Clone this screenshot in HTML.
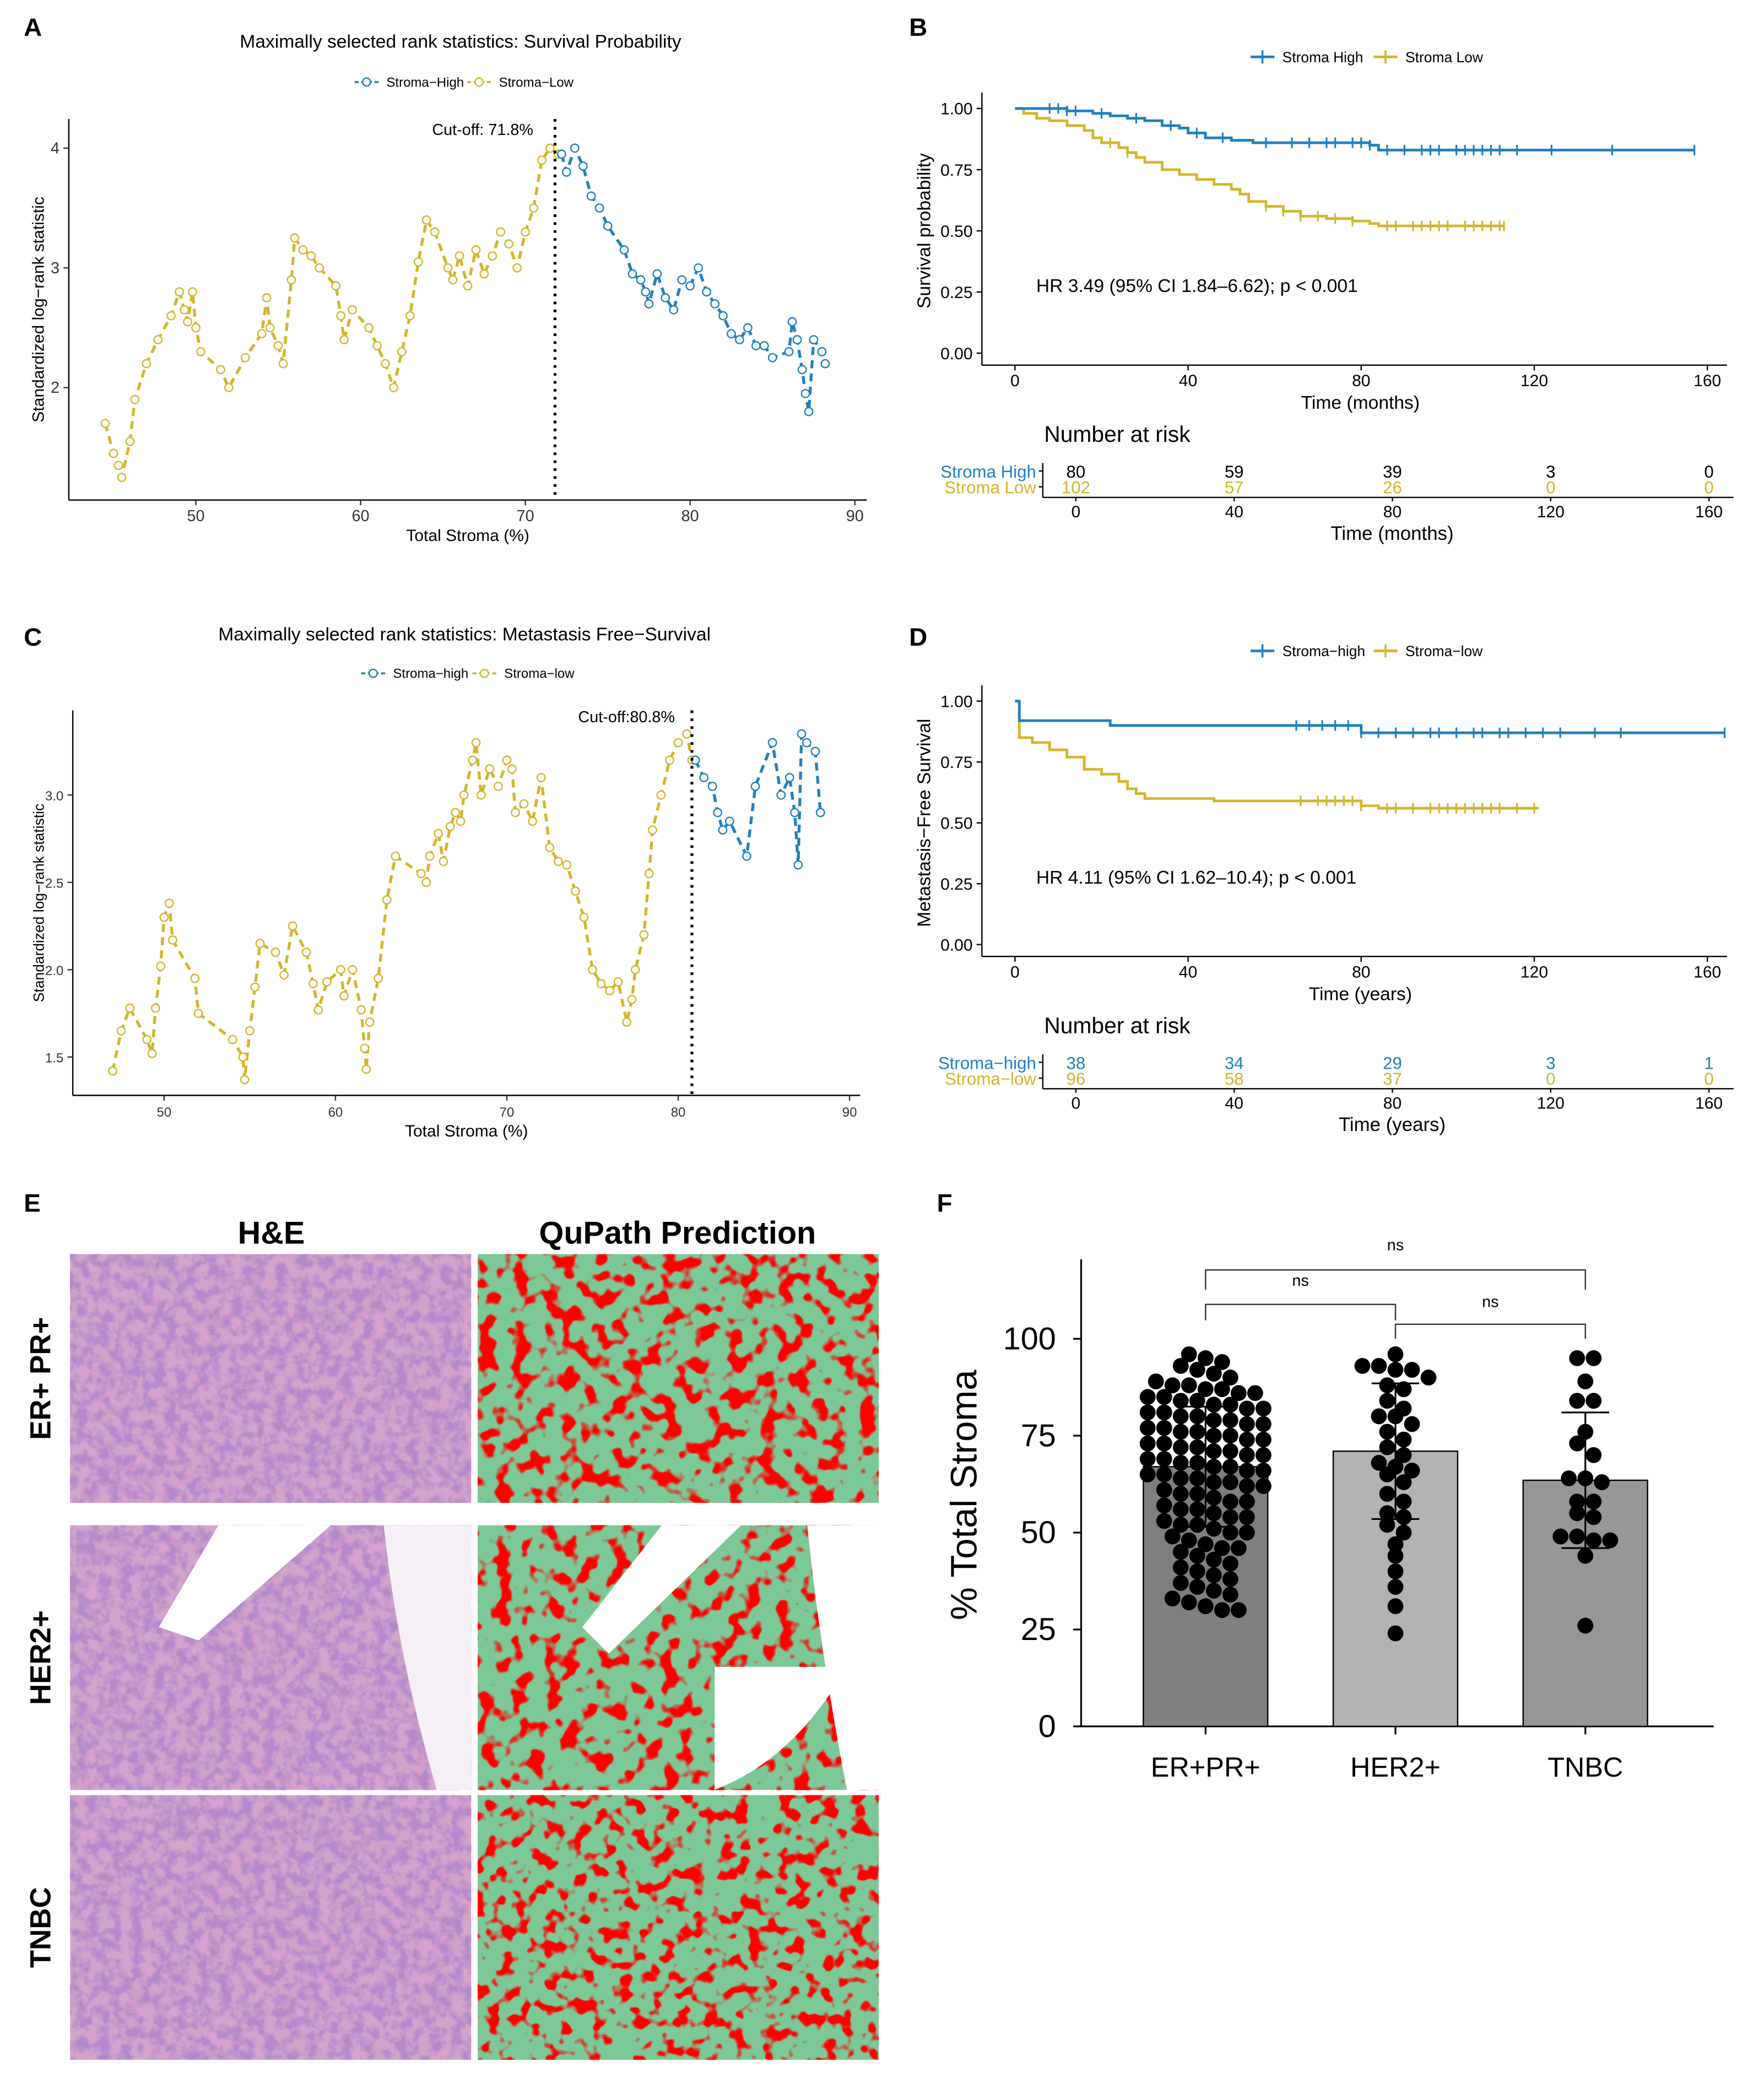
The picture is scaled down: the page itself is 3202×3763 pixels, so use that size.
<!DOCTYPE html>
<html><head><meta charset="utf-8"><style>
html,body{margin:0;padding:0;background:#fff}
svg{display:block;font-family:"Liberation Sans",Arial,sans-serif}
</style></head><body>
<svg id="fig" width="3202" height="3763" viewBox="0 0 1333 1567" preserveAspectRatio="none" xmlns="http://www.w3.org/2000/svg">
<defs>
<filter id="he1" x="0" y="0" width="1" height="1"><feTurbulence type="fractalNoise" baseFrequency="0.12" numOctaves="4" seed="3"/><feColorMatrix type="matrix" values="0 0 0 0 0.45  0 0 0 0 0.25  0 0 0 0 0.6  -3.2 0 0 0 2.0"/></filter>
<filter id="qp1" x="0" y="0" width="1" height="1"><feTurbulence type="fractalNoise" baseFrequency="0.08" numOctaves="2" seed="5"/><feColorMatrix type="matrix" values="0 0 0 0 1  0 0 0 0 0  0 0 0 0 0  -9 0 0 0 4.3"/></filter>
<filter id="qp2" x="0" y="0" width="1" height="1"><feTurbulence type="fractalNoise" baseFrequency="0.08" numOctaves="2" seed="9"/><feColorMatrix type="matrix" values="0 0 0 0 1  0 0 0 0 0  0 0 0 0 0  -9 0 0 0 4.2"/></filter>
<filter id="qp3" x="0" y="0" width="1" height="1"><feTurbulence type="fractalNoise" baseFrequency="0.09" numOctaves="2" seed="11"/><feColorMatrix type="matrix" values="0 0 0 0 1  0 0 0 0 0  0 0 0 0 0  -9 0 0 0 4.2"/></filter>
</defs>
<g id="root"></g>
</svg>
<script>
// ---------- DATA ----------
const aHighX=[72.2,72.5,73,73.5,74,74.5,75,76,76.5,77,77.3,77.5,78,78.5,79,79.5,80,80.5,81,81.5,82,82.5,83,83.5,84,84.5,85,86,86.2,86.5,86.8,87,87.2,87.5,88,88.2];
const aHighY=[3.95,3.8,4.0,3.85,3.6,3.5,3.35,3.15,2.95,2.9,2.8,2.7,2.95,2.75,2.65,2.9,2.85,3.0,2.8,2.7,2.6,2.45,2.4,2.5,2.35,2.35,2.25,2.3,2.55,2.4,2.15,1.95,1.8,2.4,2.3,2.2];
const aLowX=[44.5,45,45.3,45.5,46,46.3,47,47.7,48.5,49,49.3,49.5,49.8,50,50.3,51.5,52,53,54,54.3,54.5,55,55.3,55.8,56,56.5,57,57.5,58.5,58.8,59,59.5,60.5,61,61.5,62,62.5,63,63.5,64,64.5,65.3,65.6,66,66.5,67,67.5,68,68.5,69,69.5,70,70.5,71,71.5,72];
const aLowY=[1.7,1.45,1.35,1.25,1.55,1.9,2.2,2.4,2.6,2.8,2.65,2.55,2.8,2.5,2.3,2.15,2.0,2.25,2.45,2.75,2.5,2.35,2.2,2.9,3.25,3.15,3.1,3.0,2.85,2.6,2.4,2.65,2.5,2.35,2.2,2.0,2.3,2.6,3.05,3.4,3.3,3.0,2.9,3.1,2.85,3.15,2.95,3.1,3.3,3.2,3.0,3.3,3.5,3.9,4.0,3.95];
const cHighX=[81,81.5,82,82.3,82.6,83,84,84.5,85.5,86,86.5,86.8,87,87.2,87.5,88,88.3];
const cHighY=[3.2,3.1,3.05,2.9,2.8,2.85,2.65,3.05,3.3,3.0,3.1,2.9,2.6,3.35,3.3,3.25,2.9];
const cLowX=[47,47.5,48,49,49.3,49.5,49.8,50,50.3,50.5,51.8,52,54,54.6,54.7,55,55.3,55.6,56.5,57,57.5,58.3,58.7,59,59.5,60.3,60.5,61,61.5,61.7,61.8,62,62.5,63,63.5,65,65.3,65.5,66,66.3,66.7,67,67.3,67.5,68,68.2,68.5,69,69.5,70,70.3,70.5,71,71.5,72,72.5,73,73.5,74,74.5,75,75.5,76,76.5,77,77.3,77.5,78,78.3,78.5,79,79.5,80,80.5,80.8];
const cLowY=[1.42,1.65,1.78,1.6,1.52,1.78,2.02,2.3,2.38,2.17,1.95,1.75,1.6,1.5,1.37,1.65,1.9,2.15,2.1,1.97,2.25,2.1,1.92,1.77,1.93,2.0,1.85,2.0,1.77,1.55,1.43,1.7,1.95,2.4,2.65,2.55,2.5,2.65,2.78,2.62,2.82,2.9,2.85,3.0,3.2,3.3,3.0,3.15,3.05,3.2,3.15,2.9,2.95,2.85,3.1,2.7,2.62,2.6,2.45,2.3,2.0,1.92,1.88,1.93,1.7,1.83,2.0,2.2,2.55,2.8,3.0,3.2,3.3,3.35,3.2];
const bHighT=[0,12,18,22,26,30,34,38,40,44,50,55,82,84,157];
const bHighS=[1,0.99,0.98,0.97,0.96,0.95,0.93,0.92,0.9,0.88,0.87,0.86,0.85,0.83,0.83];
const bLowT=[0,2,5,8,12,16,18,20,24,26,28,30,34,38,42,46,50,52,54,58,62,66,72,78,82,84,113];
const bLowS=[1,0.98,0.96,0.95,0.93,0.91,0.88,0.86,0.84,0.82,0.8,0.78,0.75,0.73,0.71,0.69,0.67,0.65,0.62,0.6,0.58,0.56,0.55,0.54,0.53,0.52,0.52];
const bHighCens=[8,10,12,14,20,28,36,42,48,58,64,68,72,74,78,80,82,86,90,94,96,98,102,104,106,108,110,112,116,124,138,157];
const bLowCens=[22,26,58,62,66,70,74,78,86,88,92,94,96,98,100,104,106,108,110,112,113];
const dHighT=[0,1,22,80,164];
const dHighS=[1,0.92,0.9,0.87,0.87];
const dLowT=[0,1,4,8,12,16,20,24,26,28,30,46,80,84,121];
const dLowS=[1,0.85,0.83,0.8,0.77,0.72,0.7,0.67,0.64,0.62,0.6,0.59,0.57,0.56,0.56];
const dHighCens=[65,68,71,74,77,80,84,88,92,96,98,102,106,108,112,114,118,122,126,134,140,164];
const dLowCens=[66,70,72,74,76,78,80,86,88,92,96,98,100,102,104,106,108,110,112,116,120];
const riskB_high=[80,59,39,3,0];
const riskB_low=[102,57,26,0,0];
const riskD_high=[38,34,29,3,1];
const riskD_low=[96,58,37,0,0];
const riskTimes=[0,40,80,120,160];
const fCats=["ER+PR+","HER2+","TNBC"];
const fMeans=[67,71,63.5];
const fSD=[15.5,17.5,17.5];
const fER=[96,95,94,93,92,91,90,89,88,88,87,87,86,86,85,85,84,84,83,83,82,82,81,81,80,80,79,79,78,78,77,77,76,76,75,75,74,74,73,73,72,72,71,71,70,70,69,69,68,68,67,67,66,66,65,65,64,64,63,63,62,62,61,60,60,59,58,58,57,56,56,55,54,54,53,52,52,51,50,50,49,48,47,46,46,45,44,43,42,41,40,39,38,37,36,35,34,33,32,31,30,30];
const fHER=[96,93,93,92,92,90,88,87,84,82,80,80,78,76,74,72,70,68,67,66,65,63,60,58,55,54,52,50,47,44,40,36,31,24];
const fTN=[95,95,89,84,84,76,73,70,64,64,63,58,58,55,54,49,49,48,48,44,26];
const fTicks=[0,25,50,75,100];

// ---------- HELPERS ----------
const NS="http://www.w3.org/2000/svg";
const root=document.getElementById('root');
function mk(tag,attrs,parent){const e=document.createElementNS(NS,tag);for(const k in attrs)e.setAttribute(k,attrs[k]);(parent||root).appendChild(e);return e;}
function txt(x,y,s,size,opts){opts=opts||{};const e=mk('text',{x:x,y:y,'font-size':size,fill:opts.fill||'#000','text-anchor':opts.anchor||'start','font-weight':opts.bold?'bold':'normal'},opts.parent);if(opts.rot)e.setAttribute('transform',`rotate(${opts.rot} ${x} ${y})`);e.textContent=s;return e;}
const BLUE='#1f7fc0', YEL='#d4b52c';

// ---------- panel letters ----------
[["A",18,27],["B",687,27],["C",18,488],["D",687,488],["E",18,916],["F",708,916]].forEach(p=>{
 const t=txt(p[1],p[2],p[0],19,{bold:true});
 
 
});

// ---------- Rank stat plots (A, C) ----------
function rankPlot(cfg){
 const g=mk('g',{});
 
 
 const sx=v=>cfg.x0+(v-cfg.xv0)*cfg.kx, sy=v=>cfg.y0-(v-cfg.yv0)*cfg.ky;
 mk('line',{x1:cfg.L,y1:cfg.T,x2:cfg.L,y2:cfg.B,stroke:'#000','stroke-width':1},g);
 mk('line',{x1:cfg.L,y1:cfg.B,x2:cfg.R,y2:cfg.B,stroke:'#000','stroke-width':1},g);
 cfg.xt.forEach(v=>{mk('line',{x1:sx(v),x2:sx(v),y1:cfg.B,y2:cfg.B+4,stroke:'#333'},g);const t=txt(sx(v),cfg.B+16,String(v),cfg.fs,{anchor:'middle',parent:g,fill:'#333'});});
 cfg.yt.forEach(v=>{mk('line',{x1:cfg.L-4,x2:cfg.L,y1:sy(v),y2:sy(v),stroke:'#333'},g);const t=txt(cfg.L-7,sy(v)+4,cfg.yfmt(v),cfg.fs,{anchor:'end',parent:g,fill:'#333'});});
 [[cfg.lowX,cfg.lowY,YEL,'stroma-low-series'],[cfg.highX,cfg.highY,BLUE,'stroma-high-series']].forEach(s=>{
  const pts=s[0].map((x,i)=>sx(x)+','+sy(s[1][i])).join(' ');
  const pl=mk('polyline',{points:pts,fill:'none',stroke:s[2],'stroke-width':2.2,'stroke-dasharray':'6,4'},g);
  
  
  s[0].forEach((x,i)=>{const c=mk('circle',{cx:sx(x),cy:sy(s[1][i]),r:3,fill:'#fff',stroke:s[2],'stroke-width':1},g);
   
   });
 });
 const cl=mk('line',{x1:sx(cfg.cut),x2:sx(cfg.cut),y1:cfg.T,y2:cfg.B,stroke:'#000','stroke-width':2.2,'stroke-dasharray':'2,4'},g);
 
 
 const ct=txt(cfg.cutLX,cfg.cutLY,cfg.cutLabel,12,{anchor:'end',parent:g});
 
 const tt=txt(cfg.tx,cfg.ty,cfg.title,14,{anchor:'middle',parent:g});
 
 const xa=txt((cfg.L+cfg.R)/2,cfg.B+31,'Total Stroma (%)',12.5,{anchor:'middle',parent:g});
 
 const ya=txt(cfg.yaX,(cfg.T+cfg.B)/2,'Standardized log−rank statistic',cfg.yaFs,{anchor:'middle',parent:g,rot:-90});
 
 cfg.leg.forEach(l=>{
  const lg=mk('g',{},g);
  
  
  mk('line',{x1:l[0],x2:l[0]+18,y1:cfg.legY,y2:cfg.legY,stroke:l[2],'stroke-width':1.5,'stroke-dasharray':'3,2'},lg);
  mk('circle',{cx:l[0]+9,cy:cfg.legY,r:3,fill:'#fff',stroke:l[2]},lg);
  txt(l[0]+24,cfg.legY+3.5,l[1],10,{parent:lg});
 });
}
rankPlot({name:'panel-a-rank-plot',L:52,R:655,T:90,B:378,x0:148,xv0:50,kx:12.45,y0:293,yv0:2,ky:90.5,
 xt:[50,60,70,80,90],yt:[2,3,4],yfmt:v=>String(v),fs:12,lowX:aLowX,lowY:aLowY,highX:aHighX,highY:aHighY,
 cut:71.8,cutLX:403,cutLY:102,cutLabel:'Cut-off: 71.8%',tx:348,ty:36,title:'Maximally selected rank statistics: Survival Probability',
 yaX:33,yaFs:12.5,legY:62,leg:[[268,'Stroma−High',BLUE],[353,'Stroma−Low',YEL]]});
rankPlot({name:'panel-c-rank-plot',L:55,R:650,T:537,B:828,x0:124,xv0:50,kx:12.95,y0:733,yv0:2,ky:132,
 xt:[50,60,70,80,90],yt:[1.5,2.0,2.5,3.0],yfmt:v=>v.toFixed(1),fs:10,lowX:cLowX,lowY:cLowY,highX:cHighX,highY:cHighY,
 cut:80.8,cutLX:510,cutLY:546,cutLabel:'Cut-off:80.8%',tx:351,ty:484,title:'Maximally selected rank statistics: Metastasis Free−Survival',
 yaX:33,yaFs:11,legY:509,leg:[[273,'Stroma−high',BLUE],[357,'Stroma−low',YEL]]});

// ---------- KM plots (B, D) ----------
function km(cfg){
 const g=mk('g',{});
 
 
 const sx=t=>767+t*3.27, sy=v=>cfg.y0-v*cfg.h;
 mk('line',{x1:742,x2:742,y1:cfg.y0-cfg.h-12,y2:cfg.y0+9,stroke:'#000'},g);
 mk('line',{x1:742,x2:1305,y1:cfg.y0+9,y2:cfg.y0+9,stroke:'#000'},g);
 [0,40,80,120,160].forEach(t=>{mk('line',{x1:sx(t),x2:sx(t),y1:cfg.y0+9,y2:cfg.y0+13,stroke:'#000'},g);const l=txt(sx(t),cfg.y0+25,String(t),12.5,{anchor:'middle',parent:g});});
 [0,0.25,0.5,0.75,1].forEach(v=>{mk('line',{x1:738,x2:742,y1:sy(v),y2:sy(v),stroke:'#000'},g);const l=txt(735,sy(v)+4.5,v.toFixed(2),12.5,{anchor:'end',parent:g});});
 const xa=txt(1028,cfg.y0+42,cfg.xlab,14,{anchor:'middle',parent:g});
 const ya=txt(703,sy(0.5),cfg.ylab,14,{anchor:'middle',parent:g,rot:-90});
 [[cfg.lt,cfg.ls,cfg.lc,YEL,'stroma-low-curve'],[cfg.ht,cfg.hs,cfg.hc,BLUE,'stroma-high-curve']].forEach(s=>{
  let d='M'+sx(s[0][0])+','+sy(s[1][0]);
  for(let i=1;i<s[0].length;i++){d+=' H'+sx(s[0][i])+' V'+sy(s[1][i]);}
  const p=mk('path',{d:d,fill:'none',stroke:s[3],'stroke-width':2},g);
  
  
  s[2].forEach(t=>{let v=s[1][0];for(let i=0;i<s[0].length;i++)if(s[0][i]<=t)v=s[1][i];
   const c=mk('line',{x1:sx(t),x2:sx(t),y1:sy(v)-4,y2:sy(v)+4,stroke:s[3],'stroke-width':1.3},g);
   
   });
 });
 const hr=txt(783,sy(0.25),cfg.hr,14,{parent:g});
 cfg.leg.forEach(l=>{const lg=mk('g',{},g);
  
  
  mk('line',{x1:l[0],x2:l[0]+18,y1:cfg.legY,y2:cfg.legY,stroke:l[2],'stroke-width':2},lg);
  mk('line',{x1:l[0]+9,x2:l[0]+9,y1:cfg.legY-5,y2:cfg.legY+5,stroke:l[2],'stroke-width':1.5},lg);
  txt(l[0]+24,cfg.legY+4,l[1],11,{parent:lg});});
 const rt=mk('g',{},g);
 
 
 const rx=t=>813+t*2.99, ry=cfg.riskY;
 txt(789,ry-22,'Number at risk',17,{parent:rt});
 txt(783,ry+5,cfg.rn[0],13,{anchor:'end',parent:rt,fill:BLUE});
 txt(783,ry+17,cfg.rn[1],13,{anchor:'end',parent:rt,fill:YEL});
 mk('line',{x1:788,x2:788,y1:ry-6,y2:ry+20,stroke:'#000'},rt);
 mk('line',{x1:785,x2:788,y1:ry,y2:ry,stroke:'#000'},rt);
 mk('line',{x1:785,x2:788,y1:ry+12,y2:ry+12,stroke:'#000'},rt);
 mk('line',{x1:788,x2:1310,y1:ry+20,y2:ry+20,stroke:'#000'},rt);
 riskTimes.forEach((t,i)=>{
  txt(rx(t),ry+5,String(cfg.rh[i]),13,{anchor:'middle',parent:rt,fill:cfg.rhCol});
  txt(rx(t),ry+17,String(cfg.rl[i]),13,{anchor:'middle',parent:rt,fill:YEL});
  mk('line',{x1:rx(t),x2:rx(t),y1:ry+20,y2:ry+23,stroke:'#000'},rt);
  txt(rx(t),ry+35,String(t),12.5,{anchor:'middle',parent:rt});
 });
 txt(1052,ry+52,cfg.xlab,14.5,{anchor:'middle',parent:rt});
}
km({name:'panel-b-km-plot',y0:267,h:185,ht:bHighT,hs:bHighS,hc:bHighCens,lt:bLowT,ls:bLowS,lc:bLowCens,
 xlab:'Time (months)',ylab:'Survival probability',hr:'HR 3.49 (95% CI 1.84–6.62); p < 0.001',legY:43,
 leg:[[945,'Stroma High',BLUE],[1038,'Stroma Low',YEL]],riskY:356,rn:['Stroma High','Stroma Low'],rh:riskB_high,rl:riskB_low,rhCol:'#000'});
km({name:'panel-d-km-plot',y0:714,h:184,ht:dHighT,hs:dHighS,hc:dHighCens,lt:dLowT,ls:dLowS,lc:dLowCens,
 xlab:'Time (years)',ylab:'Metastasis−Free Survival',hr:'HR 4.11 (95% CI 1.62–10.4); p < 0.001',legY:492,
 leg:[[945,'Stroma−high',BLUE],[1038,'Stroma−low',YEL]],riskY:803,rn:['Stroma−high','Stroma−low'],rh:riskD_high,rl:riskD_low,rhCol:BLUE});

// ---------- Panel E images ----------
const eg=mk('g',{});


const h1=txt(205,940,'H&E',24,{anchor:'middle',bold:true,parent:eg});
const h2=txt(512,940,'QuPath Prediction',24,{anchor:'middle',bold:true,parent:eg});
const rows=[['ER+ PR+',948,1136,'qp1'],['HER2+',1153,1353,'qp2'],['TNBC',1357,1557,'qp3']];
rows.forEach((r,i)=>{
 const lab=txt(38,(r[1]+r[2])/2,r[0],22,{anchor:'middle',bold:true,rot:-90,parent:eg});
 
 
 const h=r[2]-r[1];
 const he=mk('g',{},eg);
 
 
 mk('rect',{x:53,y:r[1],width:303,height:h,fill:'#d6a3cc'},he);
 mk('rect',{x:53,y:r[1],width:303,height:h,filter:'url(#he1)'},he);
 const qp=mk('g',{},eg);
 
 
 mk('rect',{x:361,y:r[1],width:303,height:h,fill:'#7cc896'},qp);
 mk('rect',{x:361,y:r[1],width:303,height:h,filter:'url(#'+r[3]+')'},qp);
 if(i===1){
  mk('path',{d:'M165,1153 L250,1153 L150,1240 L120,1230 Z',fill:'#fff'},he);
  mk('path',{d:'M290,1153 L356,1153 L356,1353 L330,1353 Q300,1250 290,1153 Z',fill:'#f6f0f6'},he);
  mk('path',{d:'M500,1153 L560,1153 L460,1250 L440,1230 Z',fill:'#fff'},qp);
  mk('path',{d:'M610,1153 L664,1153 L664,1353 L640,1353 Q620,1250 610,1153 Z',fill:'#fff'},qp);
  mk('path',{d:'M540,1260 L640,1260 Q600,1330 540,1353 Z',fill:'#fff'},qp);
 }
});

// ---------- Panel F bar chart ----------
const fg=mk('g',{});


const fy=v=>1305-v*2.93;
const fx=i=>911+i*143.5;
mk('line',{x1:817,x2:817,y1:952,y2:1305,stroke:'#000','stroke-width':1.3},fg);
mk('line',{x1:817,x2:1295,y1:1305,y2:1305,stroke:'#000','stroke-width':1.3},fg);
fTicks.forEach(v=>{mk('line',{x1:811,x2:817,y1:fy(v),y2:fy(v),stroke:'#000','stroke-width':1.3},fg);
 const t=txt(798,fy(v)+8,String(v),24,{anchor:'end',parent:fg});});
const fyt=txt(738,1130,'% Total Stroma',28,{anchor:'middle',rot:-90,parent:fg});

const fills=['#7f7f7f','#b3b3b3','#979797'];
const groups=[fER,fHER,fTN];
fCats.forEach((c,i)=>{
 const b=mk('rect',{x:fx(i)-47,y:fy(fMeans[i]),width:94,height:fy(0)-fy(fMeans[i]),fill:fills[i],stroke:'#000','stroke-width':1},fg);
 
 
 mk('line',{x1:fx(i),x2:fx(i),y1:fy(0),y2:fy(0)+6,stroke:'#000','stroke-width':1.3},fg);
 const l=txt(fx(i),1343,c,21,{anchor:'middle',parent:fg});
 const vals=groups[i];const bins={};
 vals.forEach(v=>{const k=Math.round(v/4);(bins[k]=bins[k]||[]).push(v);});
 Object.keys(bins).forEach(k=>{const arr=bins[k];const n=arr.length;
  arr.forEach((v,j)=>{const off=(j-(n-1)/2)*12.5;
   const d=mk('circle',{cx:fx(i)+off,cy:fy(v),r:6,fill:'#000'},fg);
   
   });});
 const lo=fMeans[i]-fSD[i],hi=fMeans[i]+fSD[i];
 mk('line',{x1:fx(i),x2:fx(i),y1:fy(lo),y2:fy(hi),stroke:'#000','stroke-width':1.3},fg);
 mk('line',{x1:fx(i)-18,x2:fx(i)+18,y1:fy(lo),y2:fy(lo),stroke:'#000','stroke-width':1.3},fg);
 mk('line',{x1:fx(i)-18,x2:fx(i)+18,y1:fy(hi),y2:fy(hi),stroke:'#000','stroke-width':1.3},fg);
});
[[0,2,960,975,945],[0,1,986,998,972],[1,2,1001,1012,988]].forEach(b=>{
 const p=mk('path',{d:`M${fx(b[0])},${b[3]} V${b[2]} H${fx(b[1])} V${b[3]}`,fill:'none',stroke:'#333','stroke-width':1},fg);
 
 
 const t=txt((fx(b[0])+fx(b[1]))/2+(b[0]===0&&b[1]===1?0:0),b[4],'ns',12,{anchor:'middle',parent:fg});
 
 
});
</script>
</body></html>
